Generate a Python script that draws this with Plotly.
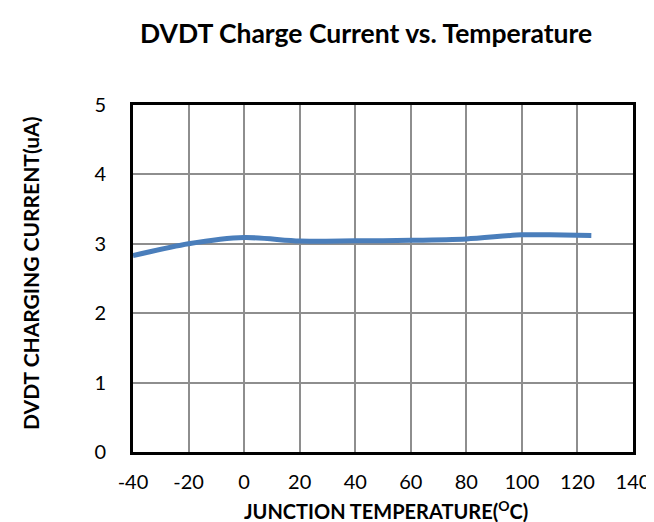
import plotly.graph_objects as go

temps = [-40, -20, 0, 20, 40, 60, 80, 100, 110, 125]
current = [2.83, 3.0, 3.09, 3.04, 3.043, 3.05, 3.07, 3.13, 3.13, 3.12]

x_ticks = [-40, -20, 0, 20, 40, 60, 80, 100, 120, 140]
y_ticks = [0, 1, 2, 3, 4, 5]

FONT = "Lato"
W, H = 654, 522
# plot-area edges (axis lines are drawn just outside these)
L, R, T, B = 124.5, 632.5, 97, 444.5

fig = go.Figure()
fig.add_trace(go.Scatter(
    x=temps, y=current, mode="lines",
    line=dict(color="#4A7EBB", width=5, shape="spline", smoothing=0.8),
    showlegend=False, hoverinfo="skip",
))

axis_common = dict(
    showline=True, linecolor="black", linewidth=3, mirror=True,
    showgrid=True, gridcolor="#8E8E8E", gridwidth=1.5,
    zeroline=False, ticks="",
    tickfont=dict(family=FONT, size=20, color="black"),
)

fig.update_layout(
    width=W, height=H,
    margin=dict(l=L, r=W - R, t=T, b=H - B, pad=0),
    paper_bgcolor="white", plot_bgcolor="white",
    xaxis=dict(range=[-40, 140], tickvals=x_ticks, ticktext=[str(v) for v in x_ticks],
               ticklabelstandoff=10, **axis_common),
    yaxis=dict(range=[0, 5], tickvals=y_ticks, ticktext=[str(v) for v in y_ticks],
               ticklabelstandoff=20, **axis_common),
)

def px(xp):
    return (xp - L) / (R - L)

def py(yp):
    return (B - yp) / (B - T)

fig.add_annotation(
    text="<b>DVDT Charge Current vs. Temperature</b>",
    x=px(361), y=py(25), xref="paper", yref="paper",
    showarrow=False, xanchor="center", yanchor="middle",
    font=dict(family=FONT, size=26.5, color="black"),
)
fig.add_annotation(
    text="<b>JUNCTION TEMPERATURE(<sup>O</sup>C)</b>",
    x=px(382), y=py(503), xref="paper", yref="paper",
    showarrow=False, xanchor="center", yanchor="middle",
    font=dict(family=FONT, size=20, color="black"),
)
fig.add_annotation(
    text="<b>DVDT CHARGING CURRENT(uA)</b>",
    x=px(21), y=py(266), xref="paper", yref="paper",
    showarrow=False, xanchor="center", yanchor="middle", textangle=-90,
    font=dict(family=FONT, size=21, color="black"),
)

fig.write_html("out.html")
